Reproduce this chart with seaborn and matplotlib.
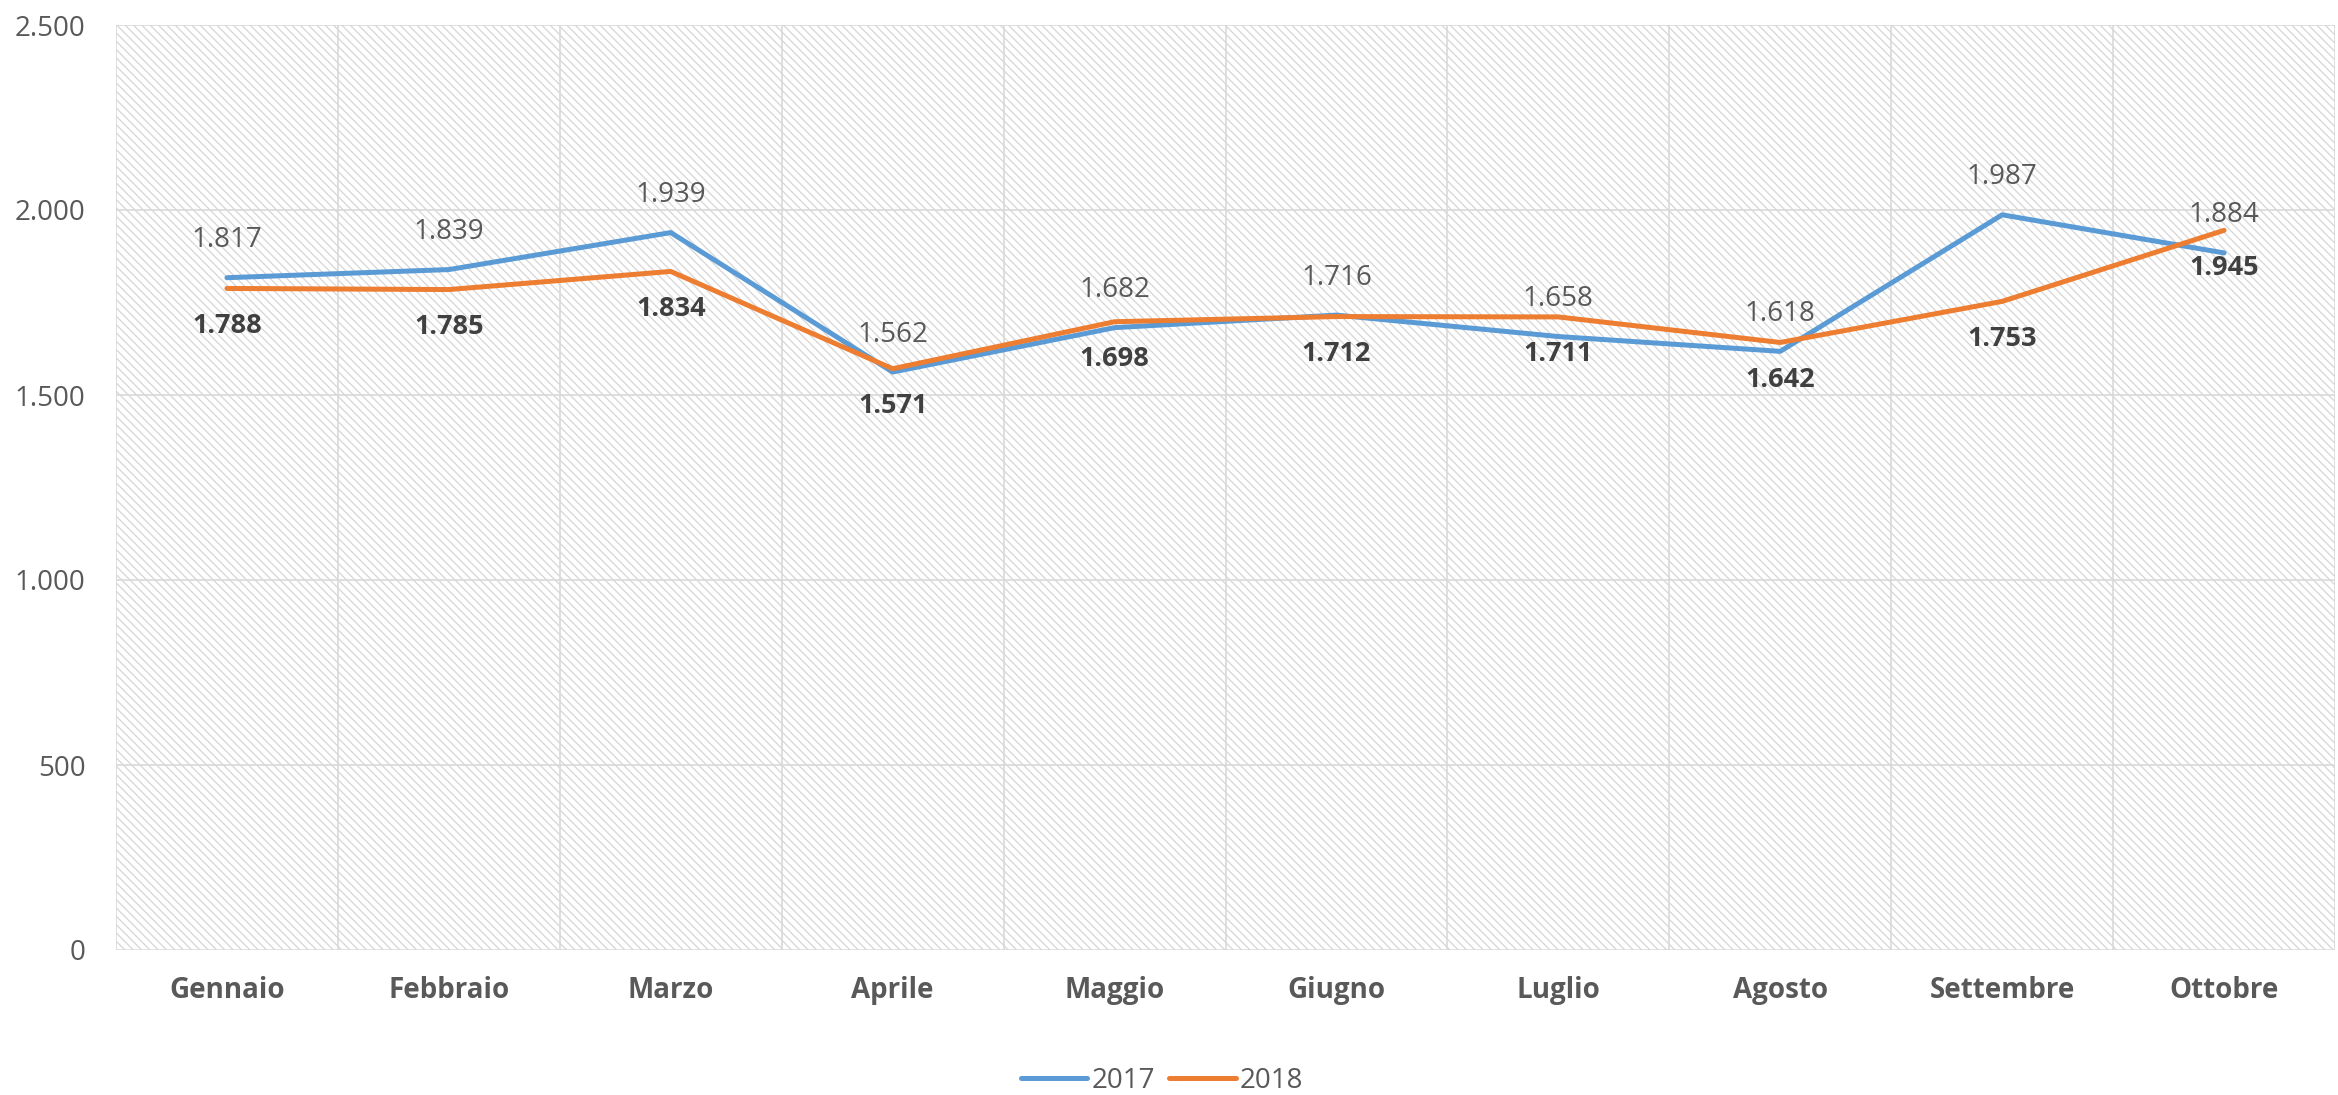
import matplotlib
matplotlib.use("Agg")
import matplotlib.pyplot as plt
from matplotlib.patches import Rectangle
from matplotlib.lines import Line2D
from matplotlib.ticker import FuncFormatter, FixedLocator
import seaborn as sns
import pandas as pd

mesi = ["Gennaio", "Febbraio", "Marzo", "Aprile", "Maggio", "Giugno",
        "Luglio", "Agosto", "Settembre", "Ottobre"]
valori_2017 = [1817, 1839, 1939, 1562, 1682, 1716, 1658, 1618, 1987, 1884]
valori_2018 = [1788, 1785, 1834, 1571, 1698, 1712, 1711, 1642, 1753, 1945]
serie = ["2017", "2018"]
y_ticks = [0, 500, 1000, 1500, 2000, 2500]

colori = {"2017": "#5B9BD5", "2018": "#ED7D31"}

sns.set_theme(style="white")
plt.rcParams["font.family"] = ["Open Sans", "DejaVu Sans"]
plt.rcParams["hatch.linewidth"] = 0.9

df = pd.DataFrame({
    "mese": mesi * 2,
    "x": list(range(len(mesi))) * 2,
    "valore": valori_2017 + valori_2018,
    "anno": [serie[0]] * len(mesi) + [serie[1]] * len(mesi),
})

fig = plt.figure(figsize=(23.38, 10.95), dpi=100)
ax = fig.add_axes([116 / 2338, (1095 - 950) / 1095, 2219 / 2338, 925 / 1095])

# hatched background
bg = Rectangle((0, 0), 1, 1, transform=ax.transAxes, facecolor="white",
               edgecolor="#D6D6D6", linewidth=0, hatch="\\\\\\\\", zorder=0)
ax.add_patch(bg)

sns.lineplot(data=df, x="x", y="valore", hue="anno", palette=colori,
             linewidth=3.6, ax=ax, legend=False, zorder=3)

ax.set_xlim(-0.5, len(mesi) - 0.5)
ax.set_ylim(0, 2500)

# gridlines
for v in y_ticks[1:]:
    ax.axhline(v, color="#D9D9D9", lw=1.2, zorder=1)
for b in [i - 0.5 for i in range(len(mesi) + 1)]:
    ax.axvline(b, color="#D9D9D9", lw=1.2, zorder=1)
ax.axhline(0, color="#D9D9D9", lw=1.8, zorder=2)

for s in ax.spines.values():
    s.set_visible(False)

ax.yaxis.set_major_locator(FixedLocator(y_ticks))
ax.yaxis.set_major_formatter(FuncFormatter(lambda v, p: f"{int(v):,}".replace(",", ".")))
ax.set_xticks(range(len(mesi)))
ax.set_xticklabels(mesi, fontweight="bold")
ax.tick_params(axis="y", length=0, pad=22, labelsize=20, labelcolor="#595959")
ax.tick_params(axis="x", length=0, pad=19, labelsize=20, labelcolor="#595959")
ax.set_xlabel("")
ax.set_ylabel("")

fmt = lambda v: f"{v:,}".replace(",", ".")
for i, v in enumerate(valori_2017):
    ax.annotate(fmt(v), (i, v), xytext=(0, 27), textcoords="offset points",
                ha="center", va="center", fontsize=20, color="#595959", zorder=5)
for i, v in enumerate(valori_2018):
    ax.annotate(fmt(v), (i, v), xytext=(0, -27), textcoords="offset points",
                ha="center", va="center", fontsize=19.5, fontweight="bold",
                color="#404040", zorder=5)

handles = [Line2D([0], [0], color=colori[s], lw=3.6, solid_capstyle="round") for s in serie]
fig.legend(handles, serie, loc="center", bbox_to_anchor=(0.497, 0.013),
           ncol=2, frameon=False, fontsize=20, handlelength=2.4,
           handletextpad=0.15, columnspacing=0.5, labelcolor="#595959")

fig.savefig("out.png", dpi=100)
